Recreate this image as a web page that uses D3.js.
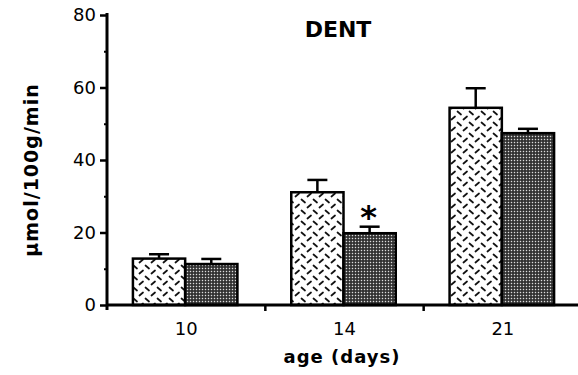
<!DOCTYPE html>
<html><head><meta charset="utf-8">
<script src="https://cdn.jsdelivr.net/npm/d3@7"></script>
<style>
html,body{margin:0;padding:0;background:#fff;}
svg{display:block;}
</style></head>
<body>
<svg id="c" width="578" height="375"></svg>
<script>
// ---- data ----
const categories = ["10", "14", "21"];
const seriesNames = ["control", "treated"];
const controlValues = [12.8, 31.1, 54.4];
const controlErrors = [1.2, 3.4, 5.4];
const treatedValues = [11.3, 19.8, 47.4];
const treatedErrors = [1.4, 1.8, 1.2];
const significant = [false, false, false, true, false, false]; // per bar: 10c,10t,14c,14t,21c,21t
const yTicks = [0, 20, 40, 60, 80];
const yMinorTicks = [10, 30, 50, 70];
const titleText = "DENT";
const xLabel = "age (days)";
const yLabel = "μmol/100g/min";

// ---- layout ----
const svg = d3.select("#c");
const mLeft = 107, mRight = 582, mTop = 15, mBottom = 305;

const x0 = d3.scaleBand().domain(categories).range([mLeft, mRight]).padding(0);
const bw = x0.bandwidth();
const gw = bw * 0.66;
const x1 = d3.scaleBand().domain(seriesNames).range([(bw - gw) / 2 - 1, (bw + gw) / 2 - 1]).padding(0);
const y = d3.scaleLinear().domain([0, 80]).range([mBottom, mTop]);

// patterns
const defs = svg.append("defs");
const pA = defs.append("pattern").attr("id", "pA").attr("patternUnits", "userSpaceOnUse")
  .attr("width", 12).attr("height", 11).attr("x", 0).attr("y", 0);
pA.append("rect").attr("width", 12).attr("height", 11).attr("fill", "#fff");
pA.append("line").attr("x1", 1.5).attr("y1", 1.5).attr("x2", 5).attr("y2", 4.5)
  .attr("stroke", "#111").attr("stroke-width", 1.7).attr("stroke-linecap", "round");
pA.append("line").attr("x1", 7.5).attr("y1", 9.5).attr("x2", 11).attr("y2", 6.5)
  .attr("stroke", "#111").attr("stroke-width", 1.7).attr("stroke-linecap", "round");

const pB = defs.append("pattern").attr("id", "pB").attr("patternUnits", "userSpaceOnUse")
  .attr("width", 3).attr("height", 3);
pB.append("rect").attr("width", 3).attr("height", 3).attr("fill", "#2b2b2b");
pB.append("rect").attr("x", 0.8).attr("y", 0.8).attr("width", 1.4).attr("height", 1.4).attr("fill", "#dcdcdc");

const fills = {control: "url(#pA)", treated: "url(#pB)"};

// data rows
const rows = [];
categories.forEach((c, i) => {
  rows.push({cat: c, s: "control", v: controlValues[i], e: controlErrors[i]});
  rows.push({cat: c, s: "treated", v: treatedValues[i], e: treatedErrors[i]});
});
rows.forEach((r, i) => r.sig = significant[i]);

// error bars
const eb = svg.append("g");
rows.forEach(r => {
  const cx = x0(r.cat) + x1(r.s) + x1.bandwidth() / 2;
  eb.append("line").attr("x1", cx).attr("x2", cx).attr("y1", y(r.v)).attr("y2", y(r.v + r.e))
    .attr("stroke", "#000").attr("stroke-width", 2.5);
  eb.append("line").attr("x1", cx - 10).attr("x2", cx + 10).attr("y1", y(r.v + r.e)).attr("y2", y(r.v + r.e))
    .attr("stroke", "#000").attr("stroke-width", 2.5);
});

// bars
svg.append("g").selectAll("rect").data(rows).join("rect")
  .attr("x", d => x0(d.cat) + x1(d.s))
  .attr("y", d => y(d.v))
  .attr("width", x1.bandwidth())
  .attr("height", d => y(0) - y(d.v))
  .attr("fill", d => fills[d.s])
  .attr("stroke", "#000").attr("stroke-width", 2.5);

// significance
svg.append("g").selectAll("text").data(rows.filter(r => r.sig)).join("text")
  .attr("x", d => x0(d.cat) + x1(d.s) + x1.bandwidth() / 2 - 1)
  .attr("y", d => y(d.v + d.e) + 1)
  .attr("text-anchor", "middle")
  .attr("font-family", "DejaVu Sans").attr("font-weight", "bold").attr("font-size", 32).attr("fill", "#000")
  .text("*");

// y axis
const yAxis = svg.append("g").attr("transform", `translate(${mLeft},0)`)
  .call(d3.axisLeft(y).tickValues(yTicks).tickSize(7).tickPadding(4).tickFormat(d3.format("d")));
yAxis.select(".domain").remove();
yAxis.selectAll(".tick line").attr("stroke", "#000").attr("stroke-width", 2.5);
yAxis.selectAll(".tick text").attr("font-family", "DejaVu Sans").attr("font-size", 18).attr("fill", "#000");
const yMinor = svg.append("g").attr("transform", `translate(${mLeft},0)`)
  .call(d3.axisLeft(y).tickValues(yMinorTicks).tickSize(3).tickFormat(""));
yMinor.select(".domain").remove();
yMinor.selectAll(".tick line").attr("stroke", "#000").attr("stroke-width", 2);
svg.append("line").attr("x1", mLeft).attr("x2", mLeft).attr("y1", y(80) - 2).attr("y2", y(0) + 5)
  .attr("stroke", "#000").attr("stroke-width", 3);

// x axis
const bounds = categories.slice(1).map(c => x0(c));
const xAxis = svg.append("g").attr("transform", `translate(0,${mBottom})`)
  .call(d3.axisBottom(x0).tickSize(0).tickPadding(17));
xAxis.select(".domain").remove();
xAxis.selectAll(".tick text").attr("font-family", "DejaVu Sans").attr("font-size", 18).attr("fill", "#000");
svg.append("line").attr("x1", mLeft).attr("x2", 578).attr("y1", mBottom).attr("y2", mBottom)
  .attr("stroke", "#000").attr("stroke-width", 3);
svg.append("g").selectAll("line").data(bounds).join("line")
  .attr("x1", d => d).attr("x2", d => d).attr("y1", mBottom).attr("y2", mBottom + 6)
  .attr("stroke", "#000").attr("stroke-width", 2.5);

// title & labels
svg.append("text").attr("x", 338).attr("y", 37).attr("text-anchor", "middle")
  .attr("font-family", "DejaVu Sans").attr("font-weight", "bold").attr("font-size", 22)
  .attr("fill", "#000").text(titleText);
svg.append("text").attr("x", 342).attr("y", 363).attr("text-anchor", "middle")
  .attr("font-family", "DejaVu Sans").attr("font-weight", "bold").attr("font-size", 18)
  .attr("letter-spacing", 1).attr("fill", "#000").text(xLabel);
svg.append("text").attr("transform", "translate(38,170) rotate(-90)").attr("text-anchor", "middle")
  .attr("font-family", "DejaVu Sans").attr("font-weight", "bold").attr("font-size", 19)
  .attr("letter-spacing", 1).attr("fill", "#000").text(yLabel);
</script>
</body></html>
